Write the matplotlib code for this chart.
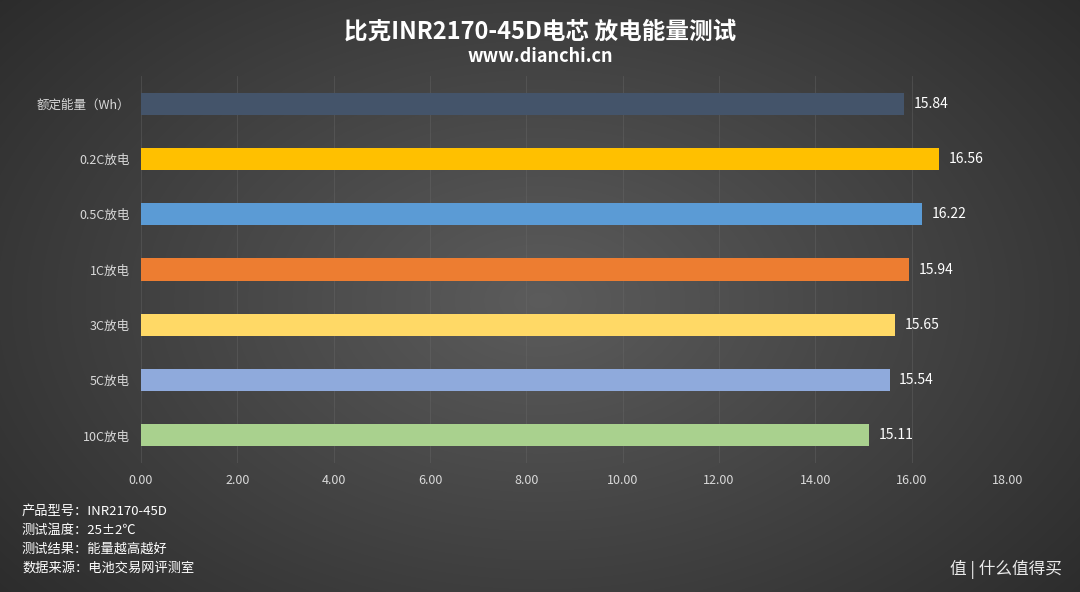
import numpy as np
import matplotlib
matplotlib.use("Agg")
import matplotlib.pyplot as plt

plt.rcParams['font.family'] = ['Noto Sans CJK SC', 'DejaVu Sans']

categories = ["额定能量（Wh）", "0.2C放电", "0.5C放电", "1C放电", "3C放电", "5C放电", "10C放电"]
values = [15.84, 16.56, 16.22, 15.94, 15.65, 15.54, 15.11]
colors = ["#44546a", "#ffc000", "#5b9bd5", "#ed7d31", "#ffd966", "#8faadc", "#a9d18e"]
xticks = [0, 2, 4, 6, 8, 10, 12, 14, 16, 18]
notes = ["产品型号：INR2170-45D", "测试温度：25±2℃", "测试结果：能量越高越好", "数据来源：电池交易网评测室"]

fig = plt.figure(figsize=(10.8, 5.92), dpi=100)
bg = fig.add_axes([0, 0, 1, 1])
yy, xx = np.mgrid[0:592, 0:1080]
r = np.sqrt(((xx - 540) / 640) ** 2 + ((yy - 300) / 420) ** 2)
shade = np.clip(0.36 - 0.17 * r, 0.15, 0.4)
bg.imshow(np.dstack([shade] * 3), aspect='auto', extent=[0, 1, 0, 1])
bg.axis('off')

ax = fig.add_axes([141/1080, 1-463/592, (1008-141)/1080, (463-76)/592])
ax.patch.set_alpha(0)
y = np.arange(len(categories))
ax.barh(y, values, height=0.4, color=colors, zorder=3)
for yi, v in zip(y, values):
    ax.text(v + 0.2, yi, f"{v:.2f}", va='center', ha='left', color='white', fontsize=10)
ax.set_ylim(6.5, -0.5)
ax.set_xlim(0, 18)
ax.set_xticks(xticks)
ax.set_xticklabels([f"{t:.2f}" for t in xticks], color='#d9d9d9', fontsize=9)
ax.set_yticks(y)
ax.set_yticklabels(categories, color='#d9d9d9', fontsize=9)
ax.tick_params(length=0, pad=8)
ax.grid(axis='x', color='#6a6a6a', linewidth=0.6, alpha=0.45, zorder=0)
for s in ax.spines.values():
    s.set_visible(False)

fig.text(0.5, 1-32/592, "比克INR2170-45D电芯 放电能量测试", ha='center', va='center',
         color='white', fontsize=17, fontweight='bold')
fig.text(0.5, 1-57/592, "www.dianchi.cn", ha='center', va='center',
         color='white', fontsize=13, fontweight='bold')
for i, n in enumerate(notes):
    fig.text(22/1080, 1-(511+19*i)/592, n, ha='left', va='center', color='white', fontsize=9.5)
fig.text(1062/1080, 1-569/592, "值 | 什么值得买", ha='right', va='center', color='white', fontsize=12, alpha=0.9)

fig.savefig("out.png", dpi=100)
